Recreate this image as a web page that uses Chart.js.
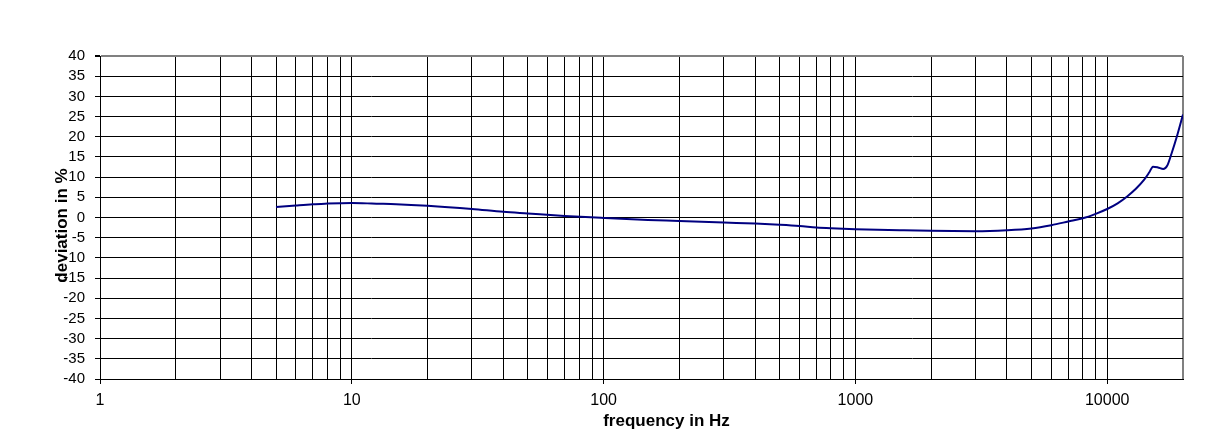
<!DOCTYPE html>
<html>
<head>
<meta charset="utf-8">
<script src="https://cdn.jsdelivr.net/npm/chart.js@4/dist/chart.umd.min.js"></script>
<style>
  html, body { margin: 0; padding: 0; background: #ffffff; }
  #wrap { width: 1219px; height: 448px; }
</style>
</head>
<body>
<div id="wrap"><canvas id="c" width="1219" height="448"></canvas></div>
<script>
// ---- data ----
const frequencies = [5, 6, 7, 8, 9, 10, 11, 12, 15, 20, 30, 40, 50, 70, 100, 150, 200, 300, 400, 500, 600, 700, 800, 1000, 1500, 2000, 3000, 4000, 5000, 6000, 7000, 8000, 9000, 10000, 11000, 12000, 13000, 14000, 14700, 15200, 15900, 16700, 17300, 18000, 19000, 20000];
const deviation = [2.6, 3.0, 3.3, 3.45, 3.55, 3.6, 3.55, 3.45, 3.3, 2.9, 2.1, 1.4, 1.0, 0.4, -0.1, -0.6, -0.85, -1.25, -1.5, -1.8, -2.1, -2.45, -2.65, -2.9, -3.15, -3.3, -3.4, -3.15, -2.7, -1.9, -1.0, -0.2, 0.9, 2.1, 3.5, 5.2, 7.1, 9.3, 11.2, 12.6, 12.4, 12.0, 12.8, 15.8, 20.5, 25.5];
const xDecades = [1, 10, 100, 1000, 10000];
const xTickLabels = ['1', '10', '100', '1000', '10000'];
const xMultipliers = [1, 2, 3, 4, 5, 6, 7, 8, 9];
const xMin = 1, xMax = 20000;
const yMin = -40, yMax = 40, yStep = 5;
const xTitle = 'frequency in Hz';
const yTitle = 'deviation in %';

const xGridValues = [];
xDecades.forEach(d => xMultipliers.forEach(m => { if (m * d <= xMax) xGridValues.push(m * d); }));

const points = frequencies.map((f, i) => ({ x: f, y: deviation[i] }));

const FONT = 'Liberation Sans, Arial, sans-serif';

const bgPlugin = {
  id: 'bg',
  beforeDraw(chart) {
    const ctx = chart.ctx;
    ctx.save();
    ctx.fillStyle = '#ffffff';
    ctx.fillRect(0, 0, chart.width, chart.height);
    ctx.restore();
  }
};

// axis titles, placed like the reference (slightly off the plot centre)
const axisTitlePlugin = {
  id: 'axisTitles',
  afterDraw(chart) {
    const ctx = chart.ctx;
    const area = chart.chartArea;
    ctx.save();
    ctx.font = 'bold 17px ' + FONT;
    ctx.fillStyle = '#000000';
    ctx.textAlign = 'center';
    ctx.textBaseline = 'middle';
    ctx.fillText(xTitle, (area.left + area.right) / 2 + 25, area.bottom + 42);
    ctx.translate(area.left - 38, (area.top + area.bottom) / 2 + 8);
    ctx.rotate(-Math.PI / 2);
    ctx.fillText(yTitle, 0, 0);
    ctx.restore();
  }
};

new Chart(document.getElementById('c'), {
  type: 'line',
  data: {
    datasets: [{
      data: points,
      borderColor: '#000080',
      borderWidth: 2,
      pointRadius: 0,
      fill: false,
      cubicInterpolationMode: 'monotone'
    }]
  },
  options: {
    responsive: false,
    animation: false,
    devicePixelRatio: 1,
    layout: { padding: { top: 56, right: 36, left: 0, bottom: 0 } },
    plugins: { legend: { display: false }, tooltip: { enabled: false } },
    scales: {
      x: {
        type: 'logarithmic',
        min: xMin,
        max: xMax,
        afterFit(scale) { scale.height = 69; },
        afterBuildTicks(scale) { scale.ticks = xGridValues.map(v => ({ value: v })); },
        grid: {
          color: ctx => (ctx.tick && ctx.tick.value === xMax) ? '#808080' : '#000000',
          lineWidth: ctx => (ctx.tick && ctx.tick.value === xMax) ? 2 : 1,
          tickColor: ctx => (ctx.tick && xDecades.includes(ctx.tick.value)) ? '#000000' : 'rgba(0,0,0,0)',
          tickLength: 5,
          drawTicks: true
        },
        border: { display: true, color: '#000000', width: 1 },
        ticks: {
          autoSkip: false,
          maxRotation: 0,
          padding: 7,
          color: '#000000',
          font: { family: FONT, size: 16 },
          callback: (value) => {
            const i = xDecades.indexOf(value);
            return i >= 0 ? xTickLabels[i] : '';
          }
        },
        title: { display: false }
      },
      y: {
        type: 'linear',
        min: yMin,
        max: yMax,
        afterFit(scale) { scale.width = 100; },
        grid: {
          color: ctx => (ctx.tick && ctx.tick.value === yMax) ? '#808080' : '#000000',
          lineWidth: ctx => (ctx.tick && ctx.tick.value === yMax) ? 2 : 1,
          tickColor: '#000000',
          tickLength: 5
        },
        border: { display: true, color: '#000000', width: 1 },
        ticks: {
          stepSize: yStep,
          autoSkip: false,
          padding: 10,
          color: '#000000',
          font: { family: FONT, size: 15 }
        },
        title: { display: false }
      }
    }
  },
  plugins: [bgPlugin, axisTitlePlugin]
});
</script>
</body>
</html>
